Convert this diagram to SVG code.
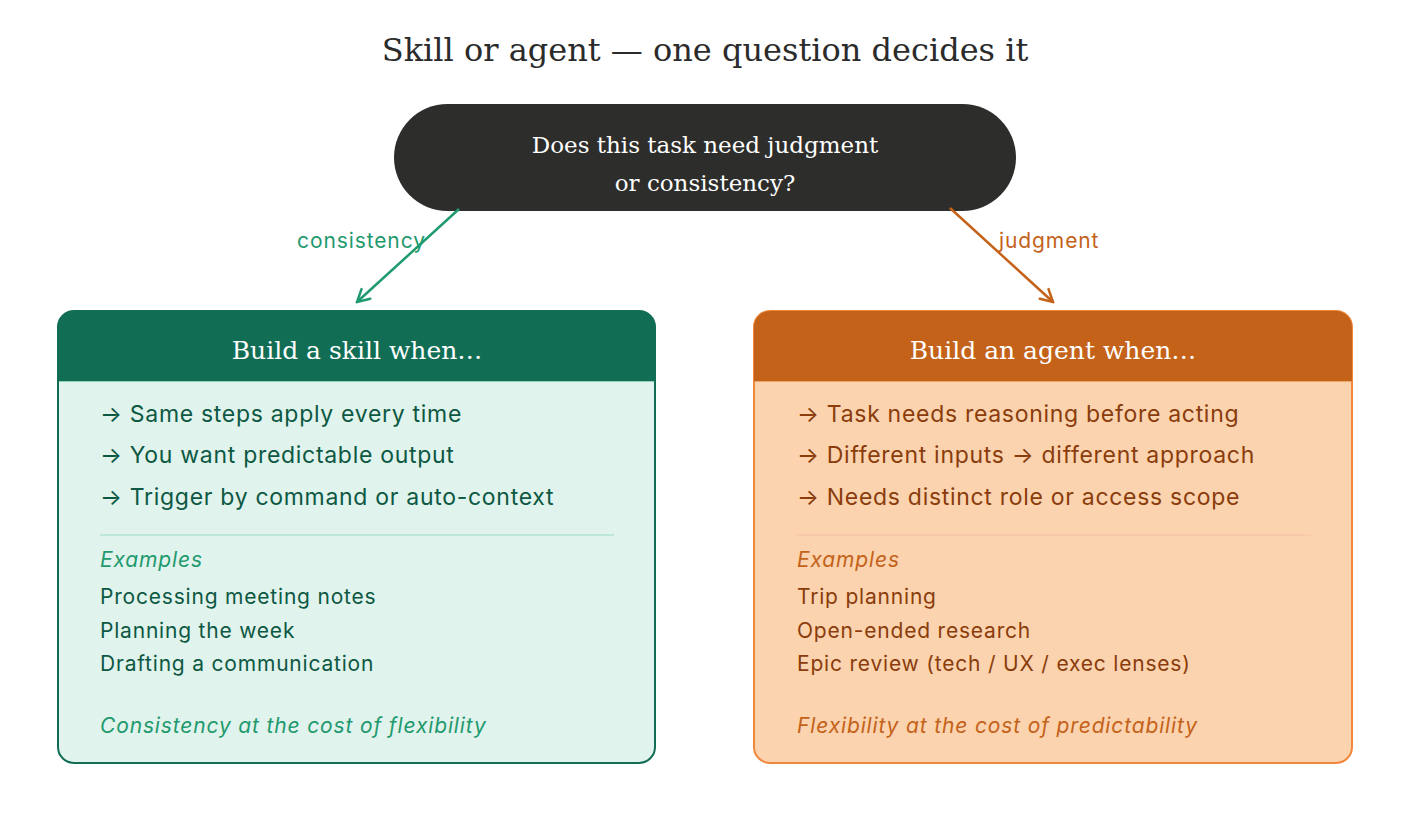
<svg xmlns="http://www.w3.org/2000/svg" width="1410" height="830" viewBox="0 0 1410 830">
<style>
.serif{font-family:"DejaVu Serif",Georgia,"Liberation Serif",serif}
.sans{font-family:Inter,"Noto Sans","Liberation Sans",sans-serif}
.title{font-size:32px;fill:#2b2b2b}
.q{font-size:23px;fill:#ffffff}
.hdr{font-size:25px;fill:#ffffff}
.bul{font-size:23px;letter-spacing:0.7px}
.ex{font-size:21px;letter-spacing:0.8px}
.it{font-style:italic;font-size:21px;letter-spacing:0.85px}
.lbl{font-size:21px;letter-spacing:0.9px}
.gdark{fill:#0d5843}
.gmid{fill:#1f9a6e}
.odark{fill:#8a3c0c}
.omid{fill:#c4621a}
</style>
<defs>
<marker id="ag" viewBox="0 0 16 16" refX="14" refY="8" markerWidth="16" markerHeight="16" markerUnits="userSpaceOnUse" orient="auto">
<path d="M2,1.5 L14,8 L2,14.5" fill="none" stroke="#1f9a6e" stroke-width="2.5" stroke-linecap="round"/>
</marker>
<marker id="ao" viewBox="0 0 16 16" refX="14" refY="8" markerWidth="16" markerHeight="16" markerUnits="userSpaceOnUse" orient="auto">
<path d="M2,1.5 L14,8 L2,14.5" fill="none" stroke="#c4621a" stroke-width="2.5" stroke-linecap="round"/>
</marker>
</defs>
<rect width="1410" height="830" fill="#ffffff"/>
<text class="serif title" x="705" y="61" text-anchor="middle">Skill or agent — one question decides it</text>

<g id="question">
<rect x="394" y="104" width="622" height="107" rx="53.5" fill="#2d2d2b"/>
<text class="serif q" x="705" y="153" text-anchor="middle">Does this task need judgment</text>
<text class="serif q" x="705" y="191" text-anchor="middle">or consistency?</text>
</g>

<g id="connectors">
<line x1="459" y1="209" x2="357" y2="302" stroke="#1f9a6e" stroke-width="2.5" marker-end="url(#ag)"/>
<text class="sans lbl" x="297" y="248" fill="#1f9a6e">consistency</text>
<line x1="950" y1="208" x2="1053" y2="302" stroke="#c4621a" stroke-width="2.5" marker-end="url(#ao)"/>
<text class="sans lbl" x="999" y="248" fill="#c4621a">judgment</text>
</g>

<g id="skill">
<rect x="58" y="311" width="597" height="452" rx="16" fill="#e0f3ec" stroke="#116e55" stroke-width="2"/>
<path d="M58,381 L58,327 A16,16 0 0 1 74,311 L639,311 A16,16 0 0 1 655,327 L655,381 Z" fill="#116e55"/>
<line x1="59" y1="381.5" x2="654" y2="381.5" stroke="#8fd0b8" stroke-width="1"/>
<text class="serif hdr" x="357" y="359" text-anchor="middle">Build a skill when…</text>
<text class="sans bul gdark" x="100" y="422">→ Same steps apply every time</text>
<text class="sans bul gdark" x="100" y="463">→ You want predictable output</text>
<text class="sans bul gdark" x="100" y="505">→ Trigger by command or auto-context</text>
<line x1="100" y1="535" x2="614" y2="535" stroke="#bde8d8" stroke-width="2"/>
<text class="sans it gmid" x="100" y="567">Examples</text>
<text class="sans ex gdark" x="100" y="604">Processing meeting notes</text>
<text class="sans ex gdark" x="100" y="638">Planning the week</text>
<text class="sans ex gdark" x="100" y="671">Drafting a communication</text>
<text class="sans it gmid" x="100" y="733">Consistency at the cost of flexibility</text>
</g>

<g id="agent">
<rect x="754" y="311" width="598" height="452" rx="16" fill="#fbd3ae" stroke="#f0873a" stroke-width="2"/>
<path d="M754,381 L754,327 A16,16 0 0 1 770,311 L1336,311 A16,16 0 0 1 1352,327 L1352,381 Z" fill="#c4621a"/>
<line x1="755" y1="381.5" x2="1351" y2="381.5" stroke="#f0a56a" stroke-width="1"/>
<text class="serif hdr" x="1053" y="359" text-anchor="middle">Build an agent when…</text>
<text class="sans bul odark" x="797" y="422">→ Task needs reasoning before acting</text>
<text class="sans bul odark" x="797" y="463">→ Different inputs → different approach</text>
<text class="sans bul odark" x="797" y="505">→ Needs distinct role or access scope</text>
<line x1="797" y1="535" x2="1311" y2="535" stroke="#f7c6a8" stroke-width="1.5"/>
<text class="sans it omid" x="797" y="567">Examples</text>
<text class="sans ex odark" x="797" y="604">Trip planning</text>
<text class="sans ex odark" x="797" y="638">Open-ended research</text>
<text class="sans ex odark" x="797" y="671">Epic review (tech / UX / exec lenses)</text>
<text class="sans it omid" x="797" y="733">Flexibility at the cost of predictability</text>
</g>
</svg>
